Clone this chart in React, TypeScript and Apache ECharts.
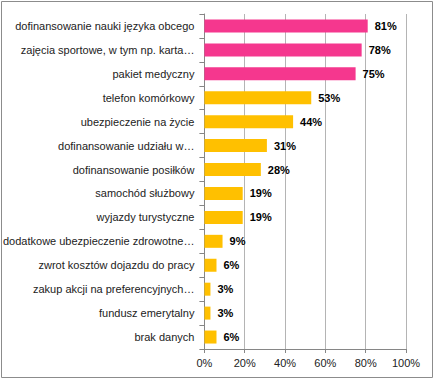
import React, { useEffect, useRef } from "react";
import * as echarts from "echarts";

const categories = [
  "dofinansowanie nauki języka obcego",
  "zajęcia sportowe, w tym np. karta…",
  "pakiet medyczny",
  "telefon komórkowy",
  "ubezpieczenie na życie",
  "dofinansowanie udziału w…",
  "dofinansowanie posiłków",
  "samochód służbowy",
  "wyjazdy turystyczne",
  "dodatkowe ubezpieczenie zdrowotne…",
  "zwrot kosztów dojazdu do pracy",
  "zakup akcji na preferencyjnych…",
  "fundusz emerytalny",
  "brak danych",
];
const values = [81, 78, 75, 53, 44, 31, 28, 19, 19, 9, 6, 3, 3, 6];
const highlighted = [true, true, true, false, false, false, false, false, false, false, false, false, false, false];
const xTicks = [0, 20, 40, 60, 80, 100];

export default function App() {
  const ref = useRef<HTMLDivElement>(null);
  useEffect(() => {
    if (!ref.current) return;
    const chart = echarts.init(ref.current, undefined, { renderer: "svg" });
    const font = "'Liberation Sans', Arial, sans-serif";
    chart.setOption({
      animation: false,
      backgroundColor: "#ffffff",
      graphic: [
        {
          type: "rect",
          shape: { x: 1.5, y: 1.5, width: 431, height: 376 },
          style: { fill: "none", stroke: "#8c8c8c", lineWidth: 1 },
          silent: true,
        },
      ],
      grid: { left: 202, right: 30, top: 14, bottom: 32, containLabel: false },
      xAxis: {
        type: "value",
        min: xTicks[0],
        max: xTicks[xTicks.length - 1],
        interval: 20,
        axisLine: { show: true, lineStyle: { color: "#868686" } },
        axisTick: { show: true, length: 4, lineStyle: { color: "#868686" } },
        splitLine: { show: true, lineStyle: { color: "#b4b4b4" } },
        axisLabel: {
          formatter: "{value}%",
          color: "#222",
          fontFamily: font,
          fontSize: 11,
          margin: 8,
        },
      },
      yAxis: {
        type: "category",
        inverse: true,
        data: categories,
        axisLine: { show: true, lineStyle: { color: "#868686" } },
        axisTick: { show: true, length: 5, interval: 0, lineStyle: { color: "#868686" } },
        axisLabel: {
          color: "#222",
          fontFamily: font,
          fontSize: 11,
          margin: 10,
          interval: 0,
        },
      },
      series: [
        {
          type: "bar",
          barWidth: 13,
          data: values.map((v, i) => ({
            value: v,
            itemStyle: { color: highlighted[i] ? "#F5378E" : "#FFC000" },
          })),
          label: {
            show: true,
            position: "right",
            distance: 7,
            formatter: "{c}%",
            color: "#000",
            fontFamily: font,
            fontWeight: "bold",
            fontSize: 11,
          },
        },
      ],
    });
    return () => chart.dispose();
  }, []);
  return (
    <div
      ref={ref}
      style={{ position: "absolute", left: 0, top: 0, width: 436, height: 381 }}
    />
  );
}
